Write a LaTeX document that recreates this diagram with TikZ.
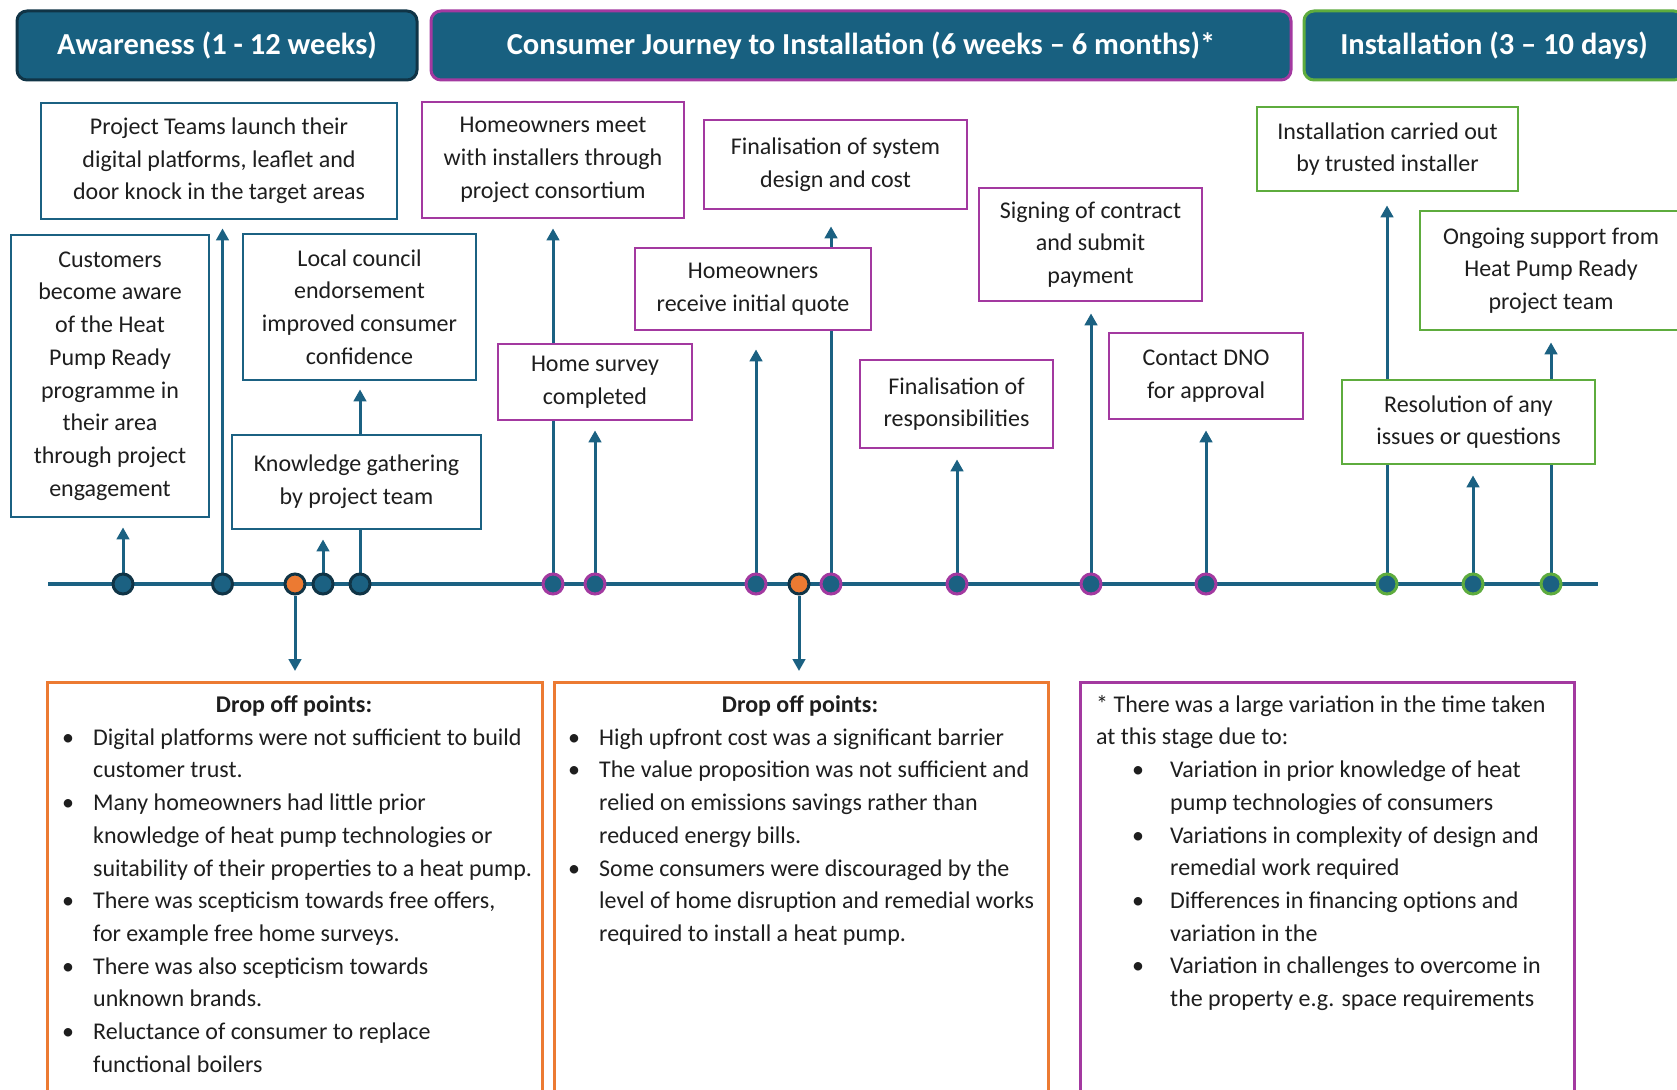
\documentclass[tikz,border=0pt]{standalone}
\usepackage{fontspec}
\setmainfont{Carlito}
\usetikzlibrary{arrows.meta}
\definecolor{hdr}{RGB}{24,96,128}
\definecolor{navy}{RGB}{16,52,70}
\definecolor{tblue}{RGB}{27,97,130}
\definecolor{purp}{RGB}{163,57,160}
\definecolor{grn}{RGB}{94,172,62}
\definecolor{org}{RGB}{236,122,50}
\definecolor{ink}{RGB}{30,30,30}
\newcommand\bodyf{\fontsize{24}{32.7}\selectfont}
\newcommand\hdrf{\fontsize{30.5}{36}\selectfont\bfseries}
\newcommand\bi{\makebox[37pt][l]{\makebox[24pt][c]{•}}}
\newcommand\ci{\hspace*{37pt}}
\newcommand\nbi{\hspace*{30pt}\makebox[44pt][l]{\makebox[24pt][c]{•}}}
\newcommand\nci{\hspace*{74pt}}
\newcommand\fst{\rule{0pt}{22pt}}
\pgfdeclarelayer{bg}
\pgfsetlayers{bg,main}
\begin{document}
\begin{tikzpicture}[x=1pt,y=-1pt,
  hdrbox/.style={draw, fill=hdr, rounded corners=10pt, line width=3pt, text=white, font=\hdrf, inner sep=0pt, minimum height=69pt},
  card/.style={draw, fill=white, line width=2.8pt, align=center, font=\bodyf, text=ink, inner sep=0pt},
  bluecard/.style={card, draw=tblue},
  purpcard/.style={card, draw=purp},
  grncard/.style={card, draw=grn},
  tdot/.style={circle, line width=3pt, minimum size=20pt, inner sep=0pt, fill=tblue},
  adot/.style={tdot, draw=navy},
  odot/.style={tdot, draw=navy, fill=org},
  pdot/.style={tdot, draw=purp},
  gdot/.style={tdot, draw=grn},
  conn/.style={line width=3pt, draw=tblue},
  arr/.style={conn, -{Triangle[length=12pt,width=12.5pt]}},
  dropbox/.style={draw, fill=white, line width=2.8pt, anchor=north west, inner sep=0pt, minimum height=430pt},
  bodytext/.style={anchor=north west, inner sep=0pt, align=left, font=\bodyf, text=ink},
]
\useasboundingbox (0,0) rectangle (1677,1089);
\clip (0,0) rectangle (1677,1089);

% headers
\node[hdrbox, draw=navy, minimum width=400pt] (h1) at (217,45.5) {Awareness (1 - 12 weeks)};
\node[hdrbox, draw=purp, minimum width=860pt] (h2) at (861,45.5) {Consumer Journey to Installation (6 weeks – 6 months)*};
\node[hdrbox, draw=grn, minimum width=380pt] (h3) at (1494,45.5) {Installation (3 – 10 days)};

% awareness cards
\node[bluecard, minimum width=356pt, minimum height=116pt] (pt) at (219,161) {Project Teams launch their\\digital platforms, leaflet and\\door knock in the target areas};
\node[bluecard, minimum width=198pt, minimum height=282pt] (cu) at (110,376) {Customers\\become aware\\of the Heat\\Pump Ready\\programme in\\their area\\through project\\engagement};
\node[bluecard, minimum width=233pt, minimum height=146pt] (lc) at (359.5,307) {Local council\\endorsement\\improved consumer\\confidence};
\node[bluecard, minimum width=249pt, minimum height=94pt] (kg) at (356.5,482) {Knowledge gathering\\by project team};

% consumer journey cards
\node[purpcard, minimum width=262pt, minimum height=116pt] (hm) at (553,160) {Homeowners meet\\with installers through\\project consortium};
\node[purpcard, minimum width=194pt, minimum height=76pt] (hs) at (595,382) {Home survey\\completed};
\node[purpcard, minimum width=263pt, minimum height=89pt] (fs) at (835.5,164.5) {Finalisation of system\\design and cost};
\node[purpcard, minimum width=236pt, minimum height=82pt] (rq) at (753,289) {Homeowners\\receive initial quote};
\node[purpcard, minimum width=223pt, minimum height=113pt] (sc) at (1090.5,244.5) {Signing of contract\\and submit\\payment};
\node[purpcard, minimum width=193pt, minimum height=88pt] (fr) at (956.5,404) {Finalisation of\\responsibilities};
\node[purpcard, minimum width=194pt, minimum height=86pt] (dno) at (1206,376) {Contact DNO\\for approval};

% installation cards
\node[grncard, minimum width=261pt, minimum height=84pt] (ic) at (1387.5,149) {Installation carried out\\by trusted installer};
\node[grncard, minimum width=262pt, minimum height=119pt] (os) at (1551,270.5) {Ongoing support from\\Heat Pump Ready\\project team};
\node[grncard, minimum width=253pt, minimum height=84pt] (rs) at (1468.5,422) {Resolution of any\\issues or questions};

% timeline dots
\node[adot] (a1) at (123,584) {};
\node[adot] (a2) at (222.5,584) {};
\node[odot] (o1) at (295,584) {};
\node[adot] (a3) at (323,584) {};
\node[adot] (a4) at (360,584) {};
\node[pdot] (p1) at (553,584) {};
\node[pdot] (p2) at (595,584) {};
\node[pdot] (p3) at (756,584) {};
\node[odot] (o2) at (799,584) {};
\node[pdot] (p4) at (831,584) {};
\node[pdot] (p5) at (957,584) {};
\node[pdot] (p6) at (1091,584) {};
\node[pdot] (p7) at (1206,584) {};
\node[gdot] (g1) at (1387,584) {};
\node[gdot] (g2) at (1473,584) {};
\node[gdot] (g3) at (1551,584) {};

% bottom boxes
\node[dropbox, draw=org, minimum width=495pt] (db1) at (46,681) {};
\node[dropbox, draw=org, minimum width=494pt] (db2) at (553,681) {};
\node[dropbox, draw=purp, minimum width=494pt] (nb) at (1079,681) {};

\node[font=\bodyf\bfseries, text=ink, anchor=base, inner sep=0pt] (db1t) at (294,712) {Drop off points:};
\node[font=\bodyf\bfseries, text=ink, anchor=base, inner sep=0pt] (db2t) at (800,712) {Drop off points:};

\node[bodytext] (db1b) at (56,723) {\fst\bi Digital platforms were not sufficient to build\\
\ci customer trust.\\
\bi Many homeowners had little prior\\
\ci knowledge of heat pump technologies or\\
\ci suitability of their properties to a heat pump.\\
\bi There was scepticism towards free offers,\\
\ci for example free home surveys.\\
\bi There was also scepticism towards\\
\ci unknown brands.\\
\bi Reluctance of consumer to replace\\
\ci functional boilers};

\node[bodytext] (db2b) at (562,723) {\fst\bi High upfront cost was a significant barrier\\
\bi The value proposition was not sufficient and\\
\ci relied on emissions savings rather than\\
\ci reduced energy bills.\\
\bi Some consumers were discouraged by the\\
\ci level of home disruption and remedial works\\
\ci required to install a heat pump.};

\node[bodytext] (nbb) at (1096,690) {\fst* There was a large variation in the time taken\\
at this stage due to:\\
\nbi Variation in prior knowledge of heat\\
\nci pump technologies of consumers\\
\nbi Variations in complexity of design and\\
\nci remedial work required\\
\nbi Differences in financing options and\\
\nci variation in the\\
\nbi Variation in challenges to overcome in\\
\nci the property e.g. space requirements};

% connectors
\begin{pgfonlayer}{bg}
\fill[white] (0,0) rectangle (1677,1089);
\coordinate (tlA) at (48,584);
\coordinate (tlB) at (1598,584);
\draw[conn, line width=3.3pt] (tlA) -- (tlB);
\draw[arr, shorten >=9pt] (a1) -- (a1 |- cu.south);
\draw[arr, shorten >=8pt] (a2) -- (a2 |- pt.south);
\draw[arr, shorten >=9pt] (a3) -- (a3 |- kg.south);
\draw[conn] (a4) -- (a4 |- kg.south);
\draw[arr, shorten >=8pt] (kg.north -| a4) -- (a4 |- lc.south);
\draw[arr, shorten >=10pt] (o1) -- (o1 |- db1.north);
\draw[arr, shorten >=9pt] (p1) -- (p1 |- hm.south);
\draw[arr, shorten >=9pt] (p2) -- (p2 |- hs.south);
\draw[arr, shorten >=18pt] (p3) -- (p3 |- rq.south);
\draw[arr, shorten >=10pt] (o2) -- (o2 |- db2.north);
\draw[arr, shorten >=16pt] (p4) -- (p4 |- fs.south);
\draw[arr, shorten >=10pt] (p5) -- (p5 |- fr.south);
\draw[arr, shorten >=11pt] (p6) -- (p6 |- sc.south);
\draw[arr, shorten >=10pt] (p7) -- (p7 |- dno.south);
\draw[arr, shorten >=13pt] (g1) -- (g1 |- ic.south);
\draw[arr, shorten >=10pt] (g2) -- (g2 |- rs.south);
\draw[conn] (g3) -- (g3 |- rs.south);
\draw[arr, shorten >=11pt] (rs.north -| g3) -- (g3 |- os.south);
\end{pgfonlayer}
\end{tikzpicture}
\end{document}
